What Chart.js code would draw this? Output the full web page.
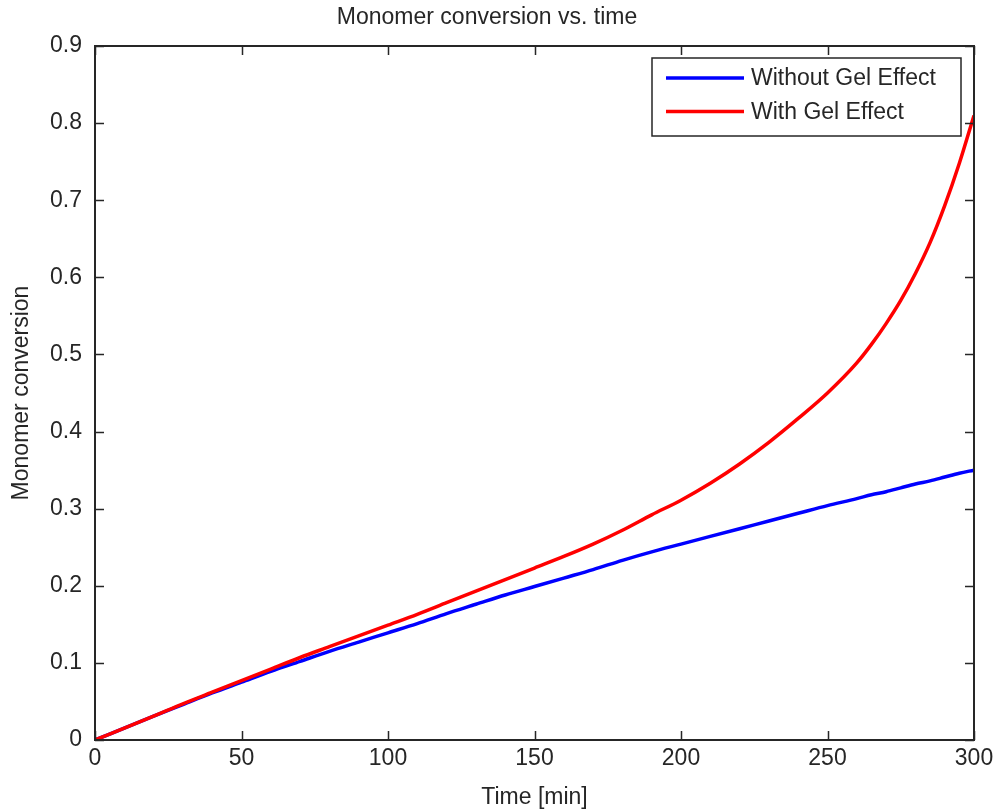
<!DOCTYPE html>
<html>
<head>
<meta charset="utf-8">
<script src="https://cdn.jsdelivr.net/npm/chart.js@4/dist/chart.umd.min.js"></script>
<style>
  html, body { margin: 0; padding: 0; background: #fff; }
  #wrap { width: 996px; height: 812px; }
</style>
</head>
<body>
<div id="wrap"><canvas id="chart" width="996" height="812"></canvas></div>
<script>
// time axis [min]
const times = [0, 10, 20, 30, 40, 50, 60, 70, 80, 90, 100, 110, 120, 130, 140, 150,
  160, 170, 180, 190, 200, 210, 220, 230, 240, 250, 260, 265, 270, 275, 280, 285, 290, 295, 300];

// Without gel effect
const convNoGel = [0, 0.0155, 0.031, 0.046, 0.061, 0.075, 0.089, 0.102, 0.115, 0.127, 0.139,
  0.151, 0.164, 0.176, 0.188, 0.199, 0.210, 0.221, 0.233, 0.244, 0.254, 0.264, 0.274, 0.284,
  0.294, 0.304, 0.313, 0.318, 0.322, 0.327, 0.332, 0.336, 0.341, 0.346, 0.350];

// With gel effect
const convGel = [0, 0.0155, 0.031, 0.047, 0.062, 0.077, 0.092, 0.107, 0.121, 0.135, 0.149,
  0.163, 0.178, 0.193, 0.208, 0.223, 0.238, 0.254, 0.272, 0.292, 0.311, 0.333, 0.358, 0.386,
  0.417, 0.450, 0.489, 0.513, 0.540, 0.570, 0.605, 0.645, 0.693, 0.748, 0.810];

const seriesNames = ['Without Gel Effect', 'With Gel Effect'];
const seriesColors = ['#0000ff', '#ff0000'];

const FONT = "'Liberation Sans', Arial, sans-serif";
const INK = '#262626';

const pts = (ys) => times.map((t, i) => ({x: t, y: ys[i]}));

// MATLAB-style box with inward ticks + legend inside the axes
const matlabBox = {
  id: 'matlabBox',
  afterDraw(chart) {
    const {ctx, chartArea: a, scales: {x, y}} = chart;
    ctx.save();
    ctx.strokeStyle = INK;
    ctx.lineWidth = 2;
    ctx.strokeRect(a.left, a.top, a.right - a.left, a.bottom - a.top);
    ctx.lineWidth = 1.5;
    ctx.beginPath();
    x.ticks.forEach(t => {
      const px = Math.round(x.getPixelForValue(t.value)) + 0.5;
      ctx.moveTo(px, a.bottom); ctx.lineTo(px, a.bottom - 9);
      ctx.moveTo(px, a.top); ctx.lineTo(px, a.top + 9);
    });
    y.ticks.forEach(t => {
      const py = Math.round(y.getPixelForValue(t.value)) + 0.5;
      ctx.moveTo(a.left, py); ctx.lineTo(a.left + 9, py);
      ctx.moveTo(a.right, py); ctx.lineTo(a.right - 9, py);
    });
    ctx.stroke();

    // legend
    const lx = 652, ly = 58, lw = 309, lh = 78;
    ctx.fillStyle = '#fff';
    ctx.fillRect(lx, ly, lw, lh);
    ctx.lineWidth = 1.5;
    ctx.strokeRect(lx, ly, lw, lh);
    ctx.font = '23px ' + FONT;
    ctx.textBaseline = 'middle';
    seriesNames.forEach((name, i) => {
      const yy = 78 + i * 33.5;
      ctx.strokeStyle = seriesColors[i];
      ctx.lineWidth = 3.5;
      ctx.beginPath();
      ctx.moveTo(666, yy); ctx.lineTo(744, yy);
      ctx.stroke();
      ctx.fillStyle = INK;
      ctx.fillText(name, 751, yy + 1);
    });
    ctx.restore();
  }
};

new Chart(document.getElementById('chart'), {
  type: 'line',
  data: {
    datasets: [
      {label: seriesNames[0], data: pts(convNoGel), borderColor: seriesColors[0], order: 2},
      {label: seriesNames[1], data: pts(convGel), borderColor: seriesColors[1], order: 1}
    ]
  },
  options: {
    responsive: false,
    animation: false,
    devicePixelRatio: 1,
    layout: {padding: {left: 0, right: 22, top: 0, bottom: 0}},
    elements: {
      point: {radius: 0},
      line: {borderWidth: 3.5, cubicInterpolationMode: 'monotone', fill: false}
    },
    plugins: {
      legend: {display: false},
      tooltip: {enabled: false},
      title: {
        display: true,
        text: 'Monomer conversion vs. time',
        color: INK,
        font: {family: FONT, size: 23, weight: 'normal', lineHeight: 1.2},
        padding: {top: 4, bottom: 14.4}
      }
    },
    scales: {
      x: {
        type: 'linear',
        min: 0, max: 300,
        grid: {display: false, drawTicks: false},
        border: {display: false},
        ticks: {stepSize: 50, color: INK, padding: 5, maxRotation: 0,
          font: {family: FONT, size: 23}},
        title: {display: true, text: 'Time [min]', color: INK,
          font: {family: FONT, size: 23, lineHeight: 1.2}, padding: {top: 0, bottom: 1}},
        afterFit(s) { s.height = 72; s.paddingLeft = 0; s.paddingRight = 0; }
      },
      y: {
        min: 0, max: 0.9,
        grid: {display: false, drawTicks: false},
        border: {display: false},
        ticks: {stepSize: 0.1, color: INK, padding: 13,
          font: {family: FONT, size: 23}},
        title: {display: true, text: 'Monomer conversion', color: INK,
          font: {family: FONT, size: 23, lineHeight: 1.2}, padding: {top: 8, bottom: 0}},
        afterFit(s) { s.width = 95; }
      }
    }
  },
  plugins: [matlabBox]
});
</script>
</body>
</html>
